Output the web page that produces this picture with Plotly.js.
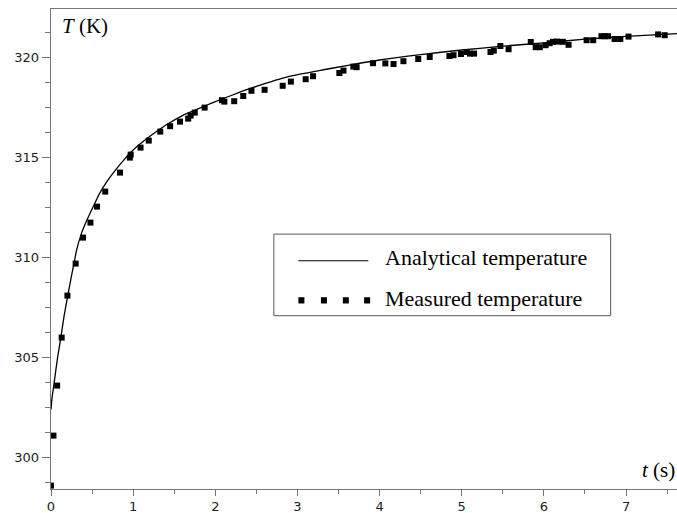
<!DOCTYPE html>
<html>
<head>
<meta charset="utf-8">
<script src="https://cdn.plot.ly/plotly-3.0.1.min.js"></script>
<style>
  html, body { margin: 0; padding: 0; background: #ffffff; }
  #chart { width: 677px; height: 513px; }
</style>
</head>
<body>
<div id="chart"></div>
<script>
// ---- Data ----
// Analytical temperature curve (time in s, temperature in K)
var analyticalTime = [0, 0.01, 0.03, 0.05, 0.08, 0.12, 0.16, 0.20, 0.25, 0.28, 0.31, 0.37, 0.44, 0.52, 0.59, 0.68, 0.77, 0.88, 1.0, 1.2, 1.4, 1.6, 1.81, 2.0, 2.21, 2.4, 2.62, 2.8, 3.03, 3.3, 3.6, 4.0, 4.5, 5.0, 5.5, 6.0, 6.5, 7.0, 7.62];
var analyticalTemp = [302.4, 302.9, 303.5, 304.1, 305.0, 306.0, 307.1, 308.0, 309.1, 309.7, 310.35, 311.2, 311.9, 312.6, 313.2, 313.8, 314.3, 314.85, 315.38, 316.05, 316.63, 317.1, 317.47, 317.8, 318.13, 318.42, 318.72, 318.95, 319.17, 319.38, 319.6, 319.88, 320.15, 320.38, 320.57, 320.74, 320.92, 321.06, 321.2];

// Measured temperature points
var measuredTime = [0.00, 0.03, 0.075, 0.13, 0.20, 0.30, 0.39, 0.48, 0.56, 0.66, 0.84, 0.96, 0.97, 1.09, 1.19, 1.33, 1.45, 1.57, 1.67, 1.70, 1.75, 1.87, 2.08, 2.11, 2.23, 2.34, 2.44, 2.60, 2.82, 2.92, 3.10, 3.19, 3.51, 3.56, 3.68, 3.72, 3.92, 4.07, 4.17, 4.29, 4.47, 4.61, 4.85, 4.90, 4.99, 5.06, 5.10, 5.15, 5.35, 5.39, 5.47, 5.57, 5.84, 5.90, 5.95, 6.02, 6.07, 6.11, 6.16, 6.23, 6.30, 6.52, 6.60, 6.70, 6.74, 6.78, 6.86, 6.93, 7.03, 7.39, 7.47];
var measuredTemp = [298.6, 301.1, 303.6, 306.0, 308.1, 309.7, 311.0, 311.75, 312.55, 313.3, 314.25, 315.0, 315.15, 315.5, 315.85, 316.3, 316.57, 316.8, 316.95, 317.1, 317.25, 317.5, 317.87, 317.8, 317.82, 318.08, 318.34, 318.39, 318.59, 318.8, 318.92, 319.07, 319.23, 319.35, 319.55, 319.52, 319.72, 319.71, 319.68, 319.82, 319.93, 320.03, 320.08, 320.12, 320.18, 320.28, 320.2, 320.2, 320.28, 320.35, 320.58, 320.42, 320.78, 320.52, 320.52, 320.62, 320.72, 320.79, 320.8, 320.79, 320.64, 320.87, 320.87, 321.07, 321.07, 321.07, 320.93, 320.93, 321.05, 321.16, 321.12];

// Tick values
var xTickValues = [0, 1, 2, 3, 4, 5, 6, 7];
var yTickValues = [300, 305, 310, 315, 320];

// Labels
var seriesNames = ["Analytical temperature", "Measured temperature"];
var yTitle = "<i>T</i> (K)";
var xTitle = "<i>t</i> (s)";

// ---- Chart ----
var serif = "Liberation Serif, Times New Roman, serif";
var sans = "DejaVu Sans, Verdana, sans-serif";
var axisGray = "#777777";

var traces = [
  {
    x: analyticalTime, y: analyticalTemp,
    type: "scatter", mode: "lines", name: seriesNames[0],
    line: { color: "#000000", width: 1.3, shape: "spline", smoothing: 0.6 },
    hoverinfo: "skip", showlegend: false
  },
  {
    x: measuredTime, y: measuredTemp,
    type: "scatter", mode: "markers", name: seriesNames[1],
    marker: { symbol: "square", size: 6, color: "#000000", line: { width: 0 } },
    hoverinfo: "skip", showlegend: false
  }
];

// legend box geometry (paper coords)
var lg = { x0: 0.356, x1: 0.894, y0: 0.361, y1: 0.531 };
var sq = [0.400, 0.436, 0.471, 0.505];
var sqW = 0.0048, sqH = 0.0065, sqY = 0.393;

var shapes = [
  { type: "rect", xref: "paper", yref: "paper", x0: lg.x0, x1: lg.x1, y0: lg.y0, y1: lg.y1,
    line: { color: "#555555", width: 1 }, fillcolor: "rgba(255,255,255,1)", layer: "above" },
  { type: "line", xref: "paper", yref: "paper", x0: 0.395, x1: 0.507, y0: 0.4756, y1: 0.4756,
    line: { color: "#000000", width: 1.1 }, layer: "above" }
];
sq.forEach(function (cx) {
  shapes.push({ type: "rect", xref: "paper", yref: "paper",
    x0: cx - sqW, x1: cx + sqW, y0: sqY - sqH, y1: sqY + sqH,
    line: { width: 0 }, fillcolor: "#000000", layer: "above" });
});

var annotations = [
  { text: yTitle, xref: "paper", yref: "paper", x: 0.014, y: 0.965, xanchor: "left", yanchor: "middle",
    showarrow: false, font: { family: serif, size: 21, color: "#000000" } },
  { text: xTitle, xref: "paper", yref: "paper", x: 1.0, y: 0.040, xanchor: "right", yanchor: "middle",
    showarrow: false, font: { family: serif, size: 21, color: "#000000" } },
  { text: seriesNames[0], xref: "paper", yref: "paper", x: 0.530, y: 0.483, xanchor: "left", yanchor: "middle",
    showarrow: false, font: { family: serif, size: 22, color: "#000000" } },
  { text: seriesNames[1], xref: "paper", yref: "paper", x: 0.530, y: 0.397, xanchor: "left", yanchor: "middle",
    showarrow: false, font: { family: serif, size: 22, color: "#000000" } }
];

var layout = {
  width: 677, height: 513,
  margin: { l: 51, r: 0, t: 9, b: 24, pad: 0 },
  paper_bgcolor: "#ffffff", plot_bgcolor: "#ffffff",
  showlegend: false,
  xaxis: {
    range: [0, 7.62], tickvals: xTickValues, ticktext: xTickValues.map(String),
    showgrid: false, zeroline: false,
    showline: true, linecolor: axisGray, linewidth: 1.3, mirror: true,
    ticks: "outside", ticklen: 6, tickwidth: 1, tickcolor: axisGray,
    ticklabelstandoff: -1,
    minor: { dtick: 0.5, tick0: 0, ticks: "outside", ticklen: 4, tickwidth: 1, tickcolor: axisGray, showgrid: false },
    tickfont: { family: sans, size: 13, color: "#222222" }
  },
  yaxis: {
    range: [298.43, 322.43], tickvals: yTickValues, ticktext: yTickValues.map(String),
    showgrid: false, zeroline: false,
    showline: true, linecolor: axisGray, linewidth: 1.3,
    ticks: "outside", ticklen: 8, tickwidth: 1, tickcolor: axisGray,
    minor: { dtick: 1.25, tick0: 300, ticks: "outside", ticklen: 5, tickwidth: 1, tickcolor: axisGray, showgrid: false },
    tickfont: { family: sans, size: 13, color: "#222222" }
  },
  shapes: shapes,
  annotations: annotations
};

Plotly.newPlot("chart", traces, layout, { staticPlot: true, displayModeBar: false });
</script>
</body>
</html>
